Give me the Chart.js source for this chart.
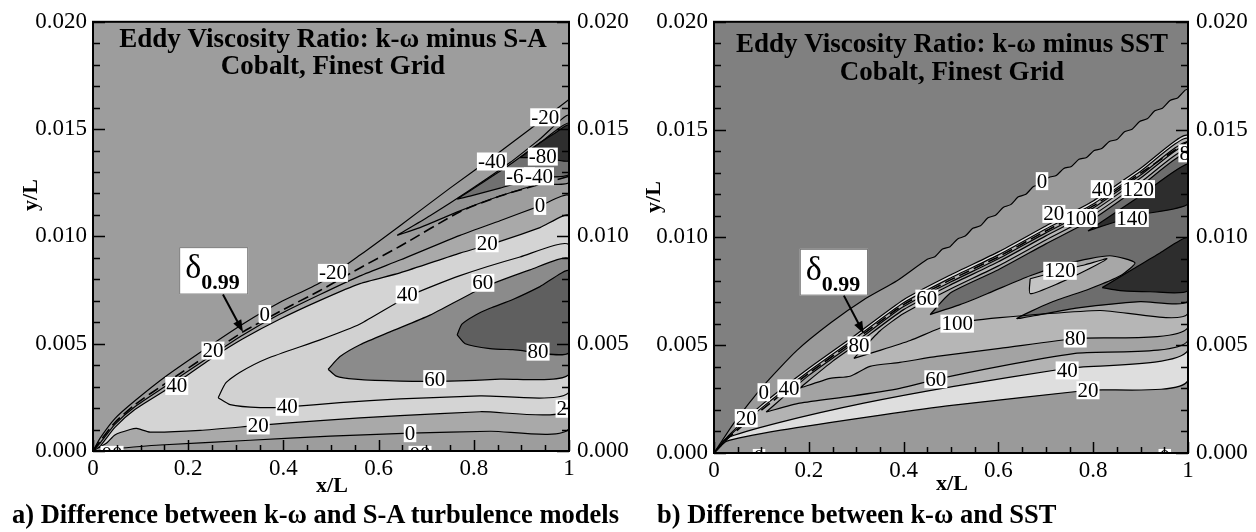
<!DOCTYPE html>
<html>
<head>
<meta charset="utf-8">
<script src="https://cdn.jsdelivr.net/npm/chart.js@4.4.0/dist/chart.umd.min.js"></script>
<style>
  body { margin: 0; background: #fff; width: 1256px; height: 532px; overflow: hidden; position: relative;
         font-family: 'Liberation Serif', 'Times New Roman', serif; }
  canvas { position: absolute; top: 0; }
  #ca { left: 0; }
  #cb { left: 628px; }
  .cap { position: absolute; top: 501px; font-weight: bold; font-size: 26.5px; line-height: 26px; white-space: nowrap; }
</style>
</head>
<body>
<canvas id="ca" width="628" height="532"></canvas>
<canvas id="cb" width="628" height="532"></canvas>
<div class="cap" style="left:12px">a) Difference between k-ω and S-A turbulence models</div>
<div class="cap" style="left:657px">b) Difference between k-ω and SST</div>
<script>
const FONT = "'Liberation Serif', 'Times New Roman', serif";

// axis ticks
const xTickValues = [0, 0.2, 0.4, 0.6, 0.8, 1];
const xTickLabels = ['0', '0.2', '0.4', '0.6', '0.8', '1'];
const yTickValues = [0, 0.005, 0.01, 0.015, 0.02];
const yTickLabels = ['0.000', '0.005', '0.010', '0.015', '0.020'];

// ---- panel a: k-omega minus S-A, contour lines as [x/L, y/L] ----
const aOuter = [[0,0],[0.015,0.0006],[0.046,0.00151],[0.088,0.00234],[0.156,0.00353],[0.252,0.005],[0.315,0.00592],[0.393,0.00693],[0.477,0.00784],[0.561,0.00913],[0.645,0.0105],[0.75,0.01225],[0.855,0.01394],[1,0.01638]];
const aDelta = [[0,0],[0.015,0.00046],[0.046,0.00133],[0.088,0.00216],[0.156,0.00321],[0.252,0.00463],[0.315,0.00555],[0.393,0.00651],[0.477,0.00748],[0.561,0.00853],[0.645,0.00954],[0.771,0.01115],[0.855,0.01188],[0.939,0.01243],[1,0.0128]];
const aZeroUp = [[0,0],[0.015,0.00037],[0.046,0.00124],[0.088,0.00206],[0.156,0.00307],[0.252,0.0045],[0.315,0.00541],[0.393,0.00638],[0.477,0.00729],[0.561,0.00816],[0.645,0.0089],[0.771,0.01005],[0.855,0.01073],[0.939,0.01142],[1,0.01188]];
const aZeroLow = [[0,0],[0.036,0.00009],[0.141,0.00028],[0.33,0.0005],[0.498,0.00069],[0.666,0.00083],[0.834,0.00092],[1,0.00106]];
const aTwentyUp = [[0,0],[0.015,0.00023],[0.046,0.0011],[0.088,0.00193],[0.156,0.00289],[0.252,0.00436],[0.315,0.00523],[0.393,0.00615],[0.477,0.00702],[0.561,0.0078],[0.645,0.0083],[0.771,0.00922],[0.855,0.00977],[0.939,0.01041],[1,0.01096]];
const aTwentyLow = [[0,0],[0.012,0.00015],[0.03,0.0004],[0.046,0.00075],[0.078,0.001],[0.092,0.00105],[0.12,0.00088],[0.225,0.00096],[0.347,0.00119],[0.477,0.00142],[0.645,0.00165],[0.813,0.00183],[1,0.00197]];
const aFortyUp = [[0.263,0.00248],[0.279,0.00317],[0.309,0.00367],[0.366,0.00431],[0.477,0.00518],[0.561,0.00592],[0.662,0.0072],[0.771,0.00817],[0.897,0.00904],[1,0.00959]];
const aFortyLow = [[0.263,0.00248],[0.288,0.00216],[0.351,0.00202],[0.408,0.00206],[0.519,0.00225],[0.645,0.00243],[0.813,0.00257],[1,0.00275]];
const aSixtyUp = [[0.494,0.00381],[0.519,0.0044],[0.561,0.00495],[0.624,0.00555],[0.708,0.00633],[0.819,0.00761],[0.918,0.00844],[1,0.00894]];
const aSixtyLow = [[0.494,0.00381],[0.511,0.00349],[0.55,0.00335],[0.645,0.00326],[0.75,0.00326],[0.855,0.00335],[1,0.00358]];
const aEightyUp = [[0.765,0.00541],[0.775,0.00591],[0.803,0.00633],[0.834,0.00665],[0.882,0.00706],[0.939,0.00766],[1,0.00839]];
const aEightyLow = [[0.765,0.00541],[0.782,0.005],[0.834,0.00477],[0.882,0.00472],[1,0.00459]];
const aM40Up = [[0.639,0.01005],[0.708,0.01096],[0.792,0.01216],[0.876,0.01344],[0.939,0.01454],[1,0.01564]];
const aM40Low = [[0.639,0.01005],[0.687,0.01041],[0.771,0.01119],[0.855,0.01188],[0.939,0.01243],[1,0.01252]];
const aM60Up = [[0.765,0.01174],[0.813,0.01243],[0.876,0.01335],[0.939,0.01436],[1,0.01527]];
const aM60Low = [[0.765,0.01174],[0.792,0.01188],[0.855,0.01225],[0.939,0.01275],[1,0.01289]];
const aM80Up = [[0.897,0.01367],[0.939,0.01436],[0.971,0.01482],[1,0.01519]];
const aM80Low = [[0.897,0.01367],[0.95,0.01367],[1,0.01353]];
const aLabels = [['-20',0.95,0.01555],['-40',0.838,0.01349],['-80',0.945,0.01372],['-60',0.897,0.0128],['-40',0.937,0.0128],
  ['0',0.939,0.01142],['20',0.828,0.00968],['-20',0.504,0.0083],['60',0.819,0.00784],['40',0.66,0.00729],['80',0.935,0.00463],
  ['60',0.718,0.00335],['20',0.996,0.00197],['0',0.666,0.00083],['00',0.687,-0.00018],['00',0.04,-0.00018],['0',0.361,0.00638],
  ['20',0.252,0.00468],['40',0.176,0.00303],['40',0.408,0.00206],['20',0.347,0.00119]];

// ---- panel b: k-omega minus SST ----
const bWavy = [[0,0],[0.042,0.00139],[0.105,0.00314],[0.175,0.00476],[0.247,0.00605],[0.316,0.00711],[0.386,0.00799],
  [0.45,0.00899],[0.466,0.0091],[0.482,0.00946],[0.498,0.00957],[0.514,0.00993],[0.53,0.01006],[0.546,0.01042],[0.562,0.01054],
  [0.578,0.01091],[0.594,0.01103],[0.61,0.01139],[0.626,0.01152],[0.642,0.01188],[0.658,0.012],[0.674,0.01236],[0.69,0.01245],
  [0.706,0.01278],[0.722,0.01287],[0.738,0.0132],[0.754,0.01329],[0.77,0.01362],[0.786,0.01371],[0.802,0.01403],[0.818,0.01412],
  [0.834,0.01445],[0.85,0.01454],[0.866,0.0149],[0.882,0.01502],[0.898,0.01538],[0.914,0.0155],[0.93,0.01587],[0.946,0.01599],
  [0.962,0.01635],[0.978,0.01647],[0.994,0.01683],[1,0.01686]];
const bDelta = [[0,0],[0.03,0.00069],[0.1,0.00199],[0.2,0.0037],[0.3,0.00527],[0.4,0.00688],[0.5,0.00804],[0.6,0.0091],[0.7,0.0103],[0.8,0.01146],[0.9,0.01298],[1,0.01446]];
const bWall = [[0,0],[1,0]];
const bU20 = [[0,0],[0.03,0.00079],[0.1,0.00222],[0.2,0.00393],[0.3,0.0055],[0.4,0.00711],[0.5,0.00827],[0.6,0.00933],[0.7,0.01053],[0.8,0.01169],[0.9,0.01321],[1,0.01469]];
const bL20 = [[0,0],[0.027,0.00055],[0.141,0.00106],[0.352,0.00176],[0.506,0.00222],[0.789,0.00291],[1,0.00337]];
const bU40 = [[0,0],[0.03,0.00074],[0.1,0.00208],[0.2,0.00379],[0.3,0.00536],[0.4,0.00697],[0.5,0.00813],[0.6,0.00919],[0.7,0.01039],[0.8,0.01155],[0.9,0.01307],[1,0.01455]];
const bL40 = [[0,0],[0.027,0.00069],[0.141,0.00143],[0.316,0.00231],[0.506,0.00309],[0.745,0.00393],[1,0.00476]];
const bU60 = [[0.11,0.0019],[0.2,0.0036],[0.3,0.00517],[0.4,0.00679],[0.5,0.00794],[0.6,0.00901],[0.7,0.01021],[0.8,0.01136],[0.9,0.01289],[1,0.01437]];
const bL60 = [[0.11,0.0019],[0.181,0.00231],[0.287,0.00263],[0.392,0.003],[0.47,0.00342],[0.603,0.00402],[0.762,0.00462],[1,0.00522]];
const bU80 = [[0.18,0.003],[0.25,0.00425],[0.3,0.00503],[0.4,0.00665],[0.5,0.00781],[0.6,0.00887],[0.7,0.01007],[0.8,0.01122],[0.9,0.01275],[1,0.01423]];
const bL80 = [[0.18,0.003],[0.245,0.00346],[0.287,0.00356],[0.329,0.00402],[0.392,0.0042],[0.47,0.00448],[0.603,0.00485],[0.762,0.00531],[1,0.00582]];
const bU100 = [[0.295,0.00439],[0.35,0.00566],[0.4,0.00647],[0.5,0.00762],[0.6,0.00868],[0.7,0.00988],[0.8,0.01104],[0.9,0.01256],[1,0.01404]];
const bL100 = [[0.295,0.00439],[0.35,0.00476],[0.414,0.00522],[0.498,0.00596],[0.603,0.00628],[0.814,0.00661],[1,0.00647]];
const bHole = [[0.667,0.00808],[0.73,0.00845],[0.783,0.00873],[0.829,0.00901],[0.783,0.00845],[0.73,0.0079],[0.667,0.00739]];
const b120 = [[0.456,0.00642],[0.5,0.00744],[0.6,0.0085],[0.7,0.0097],[0.8,0.01085],[0.9,0.01238],[1,0.01386],[1,0.00707],
  [0.899,0.00702],[0.772,0.00674],[0.688,0.00642],[0.639,0.00624],[0.709,0.00697],[0.793,0.00762],[0.857,0.00822],[0.888,0.00882],
  [0.835,0.00915],[0.751,0.00882],[0.667,0.00822],[0.582,0.00744],[0.519,0.00688]];
const b140a = [[0.789,0.0103],[0.814,0.01067],[0.899,0.01192],[1,0.0134],[1,0.01155],[0.899,0.01105],[0.814,0.01049]];
const b140b = [[0.819,0.00767],[0.878,0.00845],[0.941,0.00928],[1,0.00998],[1,0.00753],[0.92,0.00748],[0.857,0.00753]];
const bLabels = [['0',0.692,0.01261],['40',0.819,0.01224],['120',0.895,0.01224],['80',1.004,0.0139],['20',0.717,0.01109],
  ['100',0.774,0.0109],['140',0.882,0.0109],['120',0.73,0.00845],['100',0.513,0.006],['80',0.762,0.00531],['40',0.745,0.00383],
  ['20',0.789,0.00291],['60',0.468,0.00342],['60',0.449,0.00716],['80',0.306,0.00499],['0',0.105,0.00282],['40',0.158,0.003],
  ['20',0.068,0.00162],['0',0.095,-0.00023],['0',0.951,-0.00023]];

const pts = arr => arr.map(([x, y]) => ({x, y}));
const region = (up, low) => pts(up.concat(low.slice().reverse()));
const ring = arr => pts(arr.concat([arr[0]]));

const panels = [
  {
    id: 'ca', bg: '#9d9d9d', box: {left: 93, right: 59, top: 15, bottom: 81},
    fills: [
      [region(aZeroUp, aZeroLow), '#a9a9a9'],
      [region(aTwentyUp, aTwentyLow), '#d4d4d4'],
      [region(aFortyUp, aFortyLow), '#d1d1d1'],
      [region(aSixtyUp, aSixtyLow), '#8b8b8b'],
      [region(aEightyUp, aEightyLow), '#5f5f5f'],
      [region(aM40Up, aM40Low), '#949494'],
      [region(aM60Up, aM60Low), '#707070'],
      [region(aM80Up, aM80Low), '#2e2e2e']
    ],
    lines: [aOuter], delta: aDelta, labels: aLabels,
    title: ['Eddy Viscosity Ratio: k-ω minus S-A', 'Cobalt, Finest Grid'], titleX: 333, titleY: [47, 74],
    deltaBox: [0.181, 0.0095, 0.326, 0.00729], arrow: [0.273, 0.00729, 0.315, 0.00555],
    xTitle: [332, 492], yTitle: [31, 195]
  },
  {
    id: 'cb', bg: '#808080', box: {left: 86, right: 68, top: 20, bottom: 79},
    fills: [
      [region(bWavy, bWall), '#9a9a9a'],
      [region(bU20, bL20), '#dedede'],
      [region(bU40, bL40), '#b3b3b3'],
      [region(bU60, bL60), '#a3a3a3'],
      [region(bU80, bL80), '#b6b6b6'],
      [region(bU100, bL100), '#a7a7a7'],
      [ring(bHole), '#c4c4c4'],
      [ring(b120), '#6d6d6d'],
      [ring(b140a), '#2d2d2d'],
      [ring(b140b), '#2d2d2d']
    ],
    lines: [], delta: bDelta, labels: bLabels,
    title: ['Eddy Viscosity Ratio: k-ω minus SST', 'Cobalt, Finest Grid'], titleX: 324, titleY: [52, 80],
    deltaBox: [0.181, 0.00947, 0.325, 0.0073], arrow: [0.274, 0.0073, 0.316, 0.00554],
    xTitle: [324, 490], yTitle: [26, 197]
  }
];

function pickLabel(values, labels) {
  return v => {
    const i = values.findIndex(t => Math.abs(t - v) < 1e-9);
    return i < 0 ? '' : labels[i];
  };
}

function contourPlugin(p) {
  return {
    id: 'contour',
    beforeDatasetsDraw(chart) {
      const {ctx, chartArea: a} = chart;
      ctx.save();
      ctx.beginPath();
      ctx.rect(a.left, a.top, a.width, a.height);
      ctx.clip();
      ctx.fillStyle = p.bg;
      ctx.fillRect(a.left, a.top, a.width, a.height);
      chart.data.datasets.forEach((ds, i) => {
        if (!ds.fillColor) return;
        const line = chart.getDatasetMeta(i).dataset;
        line.updateControlPoints(a, 'x');
        ctx.beginPath();
        line.path(ctx);
        ctx.closePath();
        ctx.fillStyle = ds.fillColor;
        ctx.fill();
      });
      ctx.restore();
    },
    afterDatasetsDraw(chart) {
      const {ctx, chartArea: a} = chart;
      const xs = chart.scales.x, ys = chart.scales.y;
      const X = v => xs.getPixelForValue(v), Y = v => ys.getPixelForValue(v);

      // contour labels
      ctx.save();
      ctx.beginPath();
      ctx.rect(a.left, a.top, a.width, a.height);
      ctx.clip();
      ctx.font = '21px ' + FONT;
      ctx.textAlign = 'center';
      ctx.textBaseline = 'middle';
      p.labels.forEach(([t, x, y]) => {
        const cx = X(x), cy = Y(y), w = ctx.measureText(t).width;
        ctx.fillStyle = '#fff';
        ctx.fillRect(cx - w / 2 - 1, cy - 9, w + 2, 18);
        ctx.fillStyle = '#000';
        ctx.fillText(t, cx, cy + 1);
      });
      ctx.restore();

      // delta 0.99 box and arrow
      const [bx0, by0, bx1, by1] = p.deltaBox;
      const l = X(bx0), t = Y(by0), r = X(bx1), b = Y(by1);
      ctx.fillStyle = '#fff';
      ctx.fillRect(l, t, r - l, b - t);
      ctx.strokeStyle = '#777';
      ctx.lineWidth = 1;
      ctx.strokeRect(l + 0.5, t + 0.5, r - l - 1, b - t - 1);
      ctx.fillStyle = '#000';
      ctx.textAlign = 'left';
      ctx.textBaseline = 'alphabetic';
      ctx.font = '34px ' + FONT;
      ctx.fillText('δ', l + 6, t + 31);
      ctx.font = 'bold 22px ' + FONT;
      ctx.fillText('0.99', l + 22, t + 42);

      const [ax0, ay0, ax1, ay1] = p.arrow;
      const x0 = X(ax0), y0 = Y(ay0), x1 = X(ax1), y1 = Y(ay1);
      const ang = Math.atan2(y1 - y0, x1 - x0);
      ctx.strokeStyle = '#000';
      ctx.lineWidth = 2;
      ctx.beginPath();
      ctx.moveTo(x0, y0);
      ctx.lineTo(x1 - 8 * Math.cos(ang), y1 - 8 * Math.sin(ang));
      ctx.stroke();
      ctx.beginPath();
      ctx.moveTo(x1, y1);
      ctx.lineTo(x1 - 12 * Math.cos(ang) + 4.5 * Math.sin(ang), y1 - 12 * Math.sin(ang) - 4.5 * Math.cos(ang));
      ctx.lineTo(x1 - 12 * Math.cos(ang) - 4.5 * Math.sin(ang), y1 - 12 * Math.sin(ang) + 4.5 * Math.cos(ang));
      ctx.closePath();
      ctx.fill();

      // title inside the plot
      ctx.font = 'bold 27px ' + FONT;
      ctx.textAlign = 'center';
      ctx.fillText(p.title[0], p.titleX, p.titleY[0]);
      ctx.fillText(p.title[1], p.titleX, p.titleY[1]);

      // frame and inward ticks
      ctx.strokeStyle = '#000';
      ctx.lineWidth = 2;
      ctx.strokeRect(a.left, a.top, a.width, a.height);
      ctx.lineWidth = 1.5;
      ctx.beginPath();
      ys.ticks.forEach(tk => {
        const py = Math.round(Y(tk.value)) + 0.5, len = tk.label ? 12 : 7;
        ctx.moveTo(a.left, py); ctx.lineTo(a.left + len, py);
        ctx.moveTo(a.right, py); ctx.lineTo(a.right - len, py);
      });
      xs.ticks.forEach(tk => {
        const px = Math.round(X(tk.value)) + 0.5, len = tk.label ? 11 : 6;
        ctx.moveTo(px, a.bottom); ctx.lineTo(px, a.bottom - len);
      });
      ctx.stroke();

      // axis titles
      ctx.font = 'bold 22px ' + FONT;
      ctx.textAlign = 'center';
      ctx.textBaseline = 'alphabetic';
      ctx.fillText('x/L', p.xTitle[0], p.xTitle[1]);
      ctx.save();
      ctx.translate(p.yTitle[0], p.yTitle[1]);
      ctx.rotate(-Math.PI / 2);
      ctx.textBaseline = 'middle';
      ctx.fillText('y/L', 0, 0);
      ctx.restore();
    }
  };
}

function makeChart(p) {
  const datasets = [];
  const lineStyle = {showLine: true, borderColor: '#000', borderWidth: 1.2, pointRadius: 0, tension: 0.2, fill: false};
  p.fills.forEach(([data, color]) => datasets.push({...lineStyle, data, fillColor: color}));
  p.lines.forEach(line => datasets.push({...lineStyle, data: pts(line)}));
  datasets.push({...lineStyle, data: pts(p.delta), borderWidth: 1.6, borderDash: [11, 5]});

  const tickFont = {family: FONT, size: 23};
  const yScale = (position, width, pad) => ({
    type: 'linear', position, min: 0, max: 0.02,
    grid: {display: false, drawTicks: false}, border: {display: false},
    ticks: {stepSize: 0.001, autoSkip: false, padding: pad, color: '#000', font: tickFont,
            callback: pickLabel(yTickValues, yTickLabels)},
    afterFit: s => { s.width = width; }
  });

  new Chart(document.getElementById(p.id), {
    type: 'scatter',
    data: {datasets},
    options: {
      responsive: false, animation: false, devicePixelRatio: 1, events: [],
      layout: {padding: {top: p.box.top, left: 0, right: 0, bottom: 0}},
      plugins: {legend: {display: false}, tooltip: {enabled: false}},
      scales: {
        x: {
          type: 'linear', min: 0, max: 1,
          grid: {display: false, drawTicks: false}, border: {display: false},
          ticks: {stepSize: 0.05, autoSkip: false, maxRotation: 0, padding: 4, color: '#000', font: tickFont,
                  callback: pickLabel(xTickValues, xTickLabels)},
          afterFit: s => { s.height = p.box.bottom; }
        },
        y: yScale('left', p.box.left, 6),
        y2: yScale('right', p.box.right, 8)
      }
    },
    plugins: [contourPlugin(p)]
  });
}

panels.forEach(makeChart);
</script>
</body>
</html>
